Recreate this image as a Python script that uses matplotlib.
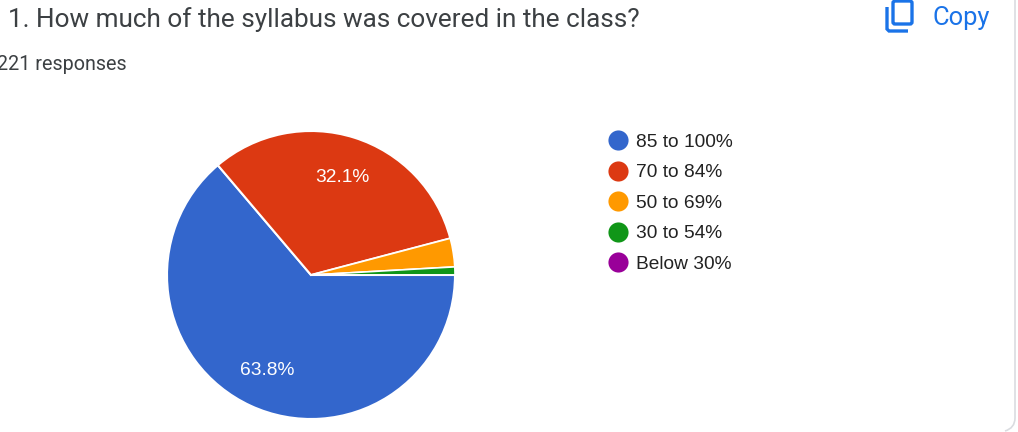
import matplotlib
matplotlib.use('Agg')
import matplotlib.pyplot as plt
from matplotlib.lines import Line2D
from matplotlib.patches import FancyBboxPatch, PathPatch
from matplotlib.path import Path

title = '1. How much of the syllabus was covered in the class?'
subtitle = '221 responses'
labels = ['85 to 100%', '70 to 84%', '50 to 69%', '30 to 54%', 'Below 30%']
shares = [63.8, 32.1, 3.2, 0.9, 0.0]
colors = ['#3366cc', '#dc3912', '#ff9900', '#109618', '#990099']

W, H = 1018, 432
fig = plt.figure(figsize=(W / 100, H / 100), dpi=100)
fig.patch.set_facecolor('white')

# overlay in pixel coordinates for the page furniture
bg = fig.add_axes([0, 0, 1, 1])
bg.set_xlim(0, W)
bg.set_ylim(H, 0)
bg.axis('off')

# card edge, bottom right
edge = Path([(1015, 0), (1015, 418), (1015, 428), (1005, 431)],
            [Path.MOVETO, Path.LINETO, Path.CURVE3, Path.CURVE3])
bg.add_patch(PathPatch(edge, fc='none', ec='#dadce0', lw=1.2))

# copy icon
blue = '#1a73e8'
bg.add_patch(FancyBboxPatch((893, 1), 19, 23, boxstyle='round,pad=0,rounding_size=2',
                            fc='none', ec=blue, lw=2.4, clip_on=False))
back = Path([(887, 7), (887, 29), (889, 31), (908, 31)],
            [Path.MOVETO, Path.LINETO, Path.LINETO, Path.LINETO])
bg.add_patch(PathPatch(back, fc='none', ec=blue, lw=2.4, capstyle='butt'))
bg.text(933, 18, 'Copy', color=blue, fontsize=18.4, family='Roboto', va='center', ha='left')

bg.text(8, 20, title, color='#3c4043', fontsize=18.8, family='Roboto', va='center', ha='left')
bg.text(-3, 64, subtitle, color='#3c4043', fontsize=14.2, family='Roboto', va='center', ha='left')

# pie
cx, cy, r = 311, 275, 144
ax = fig.add_axes([(cx - r) / W, 1 - (cy + r) / H, 2 * r / W, 2 * r / H])
wedges, _ = ax.pie(shares, colors=colors, startangle=0, counterclock=False, radius=1,
                   wedgeprops={'edgecolor': 'white', 'linewidth': 1.5})
ax.set_xlim(-1, 1)
ax.set_ylim(-1, 1)
for wedge in wedges[2:]:
    wedge.set_linewidth(1.2)

# percent labels for the big slices only
ax.text(-0.305, -0.66, '63.8%', color='white', fontsize=13.8, family='Liberation Sans',
        ha='center', va='center')
ax.text(0.215, 0.68, '32.1%', color='white', fontsize=13.8, family='Liberation Sans',
        ha='center', va='center')

handles = [Line2D([], [], marker='o', ls='none', ms=14.5, mfc=c, mec=c, mew=0) for c in colors]
leg = fig.legend(handles, labels, loc='upper left', bbox_to_anchor=(603 / W, 1 - 133.5 / H),
                 frameon=False, borderpad=0, borderaxespad=0, handletextpad=0.12,
                 labelspacing=0.68, handlelength=1.6,
                 prop={'family': 'Liberation Sans', 'size': 13.8})
for t in leg.get_texts():
    t.set_color('#222222')

fig.savefig('out.png', dpi=100)
